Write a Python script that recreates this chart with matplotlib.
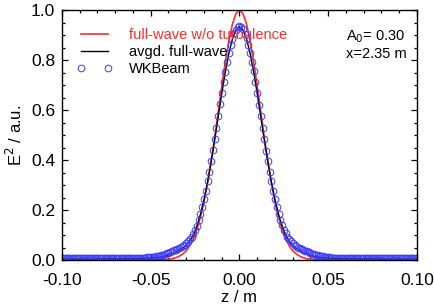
import numpy as np
import matplotlib
matplotlib.use("Agg")
import matplotlib.pyplot as plt
from matplotlib.ticker import MultipleLocator

plt.rcParams['font.family'] = ['Liberation Sans', 'DejaVu Sans']

# full-wave / averaged full-wave curves, sampled every 2 mm from -0.10 to 0.10 m
z_fw = np.linspace(-0.10, 0.10, 101)
e2_noturb = ([0.0] * 28
             + [0.001, 0.002, 0.003, 0.005, 0.009, 0.015, 0.024, 0.037, 0.057, 0.085, 0.122,
                0.171, 0.232, 0.307, 0.393, 0.489, 0.591, 0.694, 0.791, 0.877, 0.943, 0.985]
             + [1.0]
             + [0.985, 0.943, 0.877, 0.791, 0.694, 0.591, 0.489, 0.393, 0.307, 0.232, 0.171,
                0.122, 0.085, 0.057, 0.037, 0.024, 0.015, 0.009, 0.005, 0.003, 0.002, 0.001]
             + [0.0] * 28)
e2_avgd = ([0.004] * 11 + [0.005] * 10
           + [0.005, 0.006, 0.006, 0.007, 0.008, 0.009, 0.010, 0.012, 0.015, 0.019, 0.024,
              0.030, 0.038, 0.047, 0.059, 0.076, 0.100, 0.136, 0.183, 0.241, 0.311, 0.392,
              0.479, 0.572, 0.665, 0.751, 0.826, 0.884, 0.920]
           + [0.933]
           + [0.920, 0.884, 0.826, 0.751, 0.665, 0.572, 0.479, 0.392, 0.311, 0.241, 0.183,
              0.136, 0.100, 0.076, 0.059, 0.047, 0.038, 0.030, 0.024, 0.019, 0.015, 0.012,
              0.010, 0.009, 0.008, 0.007, 0.006, 0.006, 0.005]
           + [0.005] * 10 + [0.004] * 11)

# WKBeam points, every 1 mm
z_wk = np.linspace(-0.10, 0.10, 201)
e2_wk = ([0.007] * 31 + [0.008] * 10
         + [0.008, 0.008, 0.009, 0.009, 0.009, 0.010, 0.010, 0.011, 0.011, 0.012]
         + [0.013, 0.014, 0.015, 0.017, 0.018, 0.020, 0.022, 0.024, 0.027, 0.030]
         + [0.033, 0.036, 0.039, 0.042, 0.045, 0.047, 0.051, 0.056, 0.062, 0.068]
         + [0.076, 0.084, 0.094, 0.106, 0.120, 0.138, 0.160, 0.185, 0.213, 0.244]
         + [0.278, 0.315, 0.354, 0.396, 0.439, 0.484, 0.530, 0.576, 0.623, 0.668]
         + [0.712, 0.754, 0.793, 0.829, 0.860, 0.886, 0.907, 0.922, 0.932]
         + [0.935]
         + [0.931, 0.923, 0.906, 0.887, 0.859, 0.830, 0.792, 0.755, 0.711]
         + [0.669, 0.622, 0.577, 0.529, 0.485, 0.438, 0.397, 0.353, 0.316, 0.277]
         + [0.245, 0.212, 0.186, 0.159, 0.139, 0.119, 0.107, 0.093, 0.085, 0.075]
         + [0.069, 0.061, 0.057, 0.050, 0.047, 0.044, 0.042, 0.038, 0.036, 0.032]
         + [0.030, 0.026, 0.024, 0.021, 0.020, 0.018, 0.016, 0.015, 0.014, 0.013]
         + [0.012, 0.011, 0.010, 0.010, 0.010, 0.009, 0.009, 0.008, 0.008, 0.008]
         + [0.008] * 10 + [0.007] * 31)

labels = ['full-wave w/o turbulence', 'avgd. full-wave', 'WKBeam']
red = '#ff2a2a'
blue = '#3a3aff'

fig = plt.figure(figsize=(4.35, 3.06), dpi=100)
ax = fig.add_axes([0.1425, 0.1503, 0.8161, 0.8170])

ax.plot(z_fw, e2_noturb, color=red, lw=1.2, label=labels[0])
ax.plot(z_fw, e2_avgd, color='black', lw=1.0, label=labels[1])
ax.plot(z_wk, e2_wk, ls='none', marker='o', ms=4.8, mfc='none', mec=blue, mew=0.7,
        label=labels[2])

ax.set_xlim(-0.10, 0.10)
ax.set_ylim(0.0, 1.0)
ax.xaxis.set_major_locator(MultipleLocator(0.05))
ax.xaxis.set_minor_locator(MultipleLocator(0.01))
ax.yaxis.set_major_locator(MultipleLocator(0.2))
ax.yaxis.set_minor_locator(MultipleLocator(0.05))
ax.xaxis.set_major_formatter(plt.FormatStrFormatter('%.2f'))
ax.yaxis.set_major_formatter(plt.FormatStrFormatter('%.1f'))
ax.tick_params(which='both', direction='in', top=True, right=True, labelsize=12.5, pad=5)
ax.tick_params(axis='x', pad=9)
ax.tick_params(which='major', length=4.5, width=0.9)
ax.tick_params(which='minor', length=2.3, width=0.9)
for s in ax.spines.values():
    s.set_linewidth(1.0)

ax.set_xlabel('z / m', fontsize=12, labelpad=2)
ax.set_ylabel('E$^2$ / a.u.', fontsize=12, labelpad=4)

leg = ax.legend(loc='upper left', bbox_to_anchor=(0.042, 0.928), frameon=False,
                fontsize=10.5, numpoints=2, handlelength=2.4, handletextpad=1.2,
                labelspacing=0.2, borderpad=0, borderaxespad=0)
leg.get_texts()[0].set_color(red)

ax.text(0.80, 0.895, 'A$_0$= 0.30', transform=ax.transAxes, fontsize=10.5, va='center')
ax.text(0.80, 0.826, 'x=2.35 m', transform=ax.transAxes, fontsize=10.5, va='center')

fig.savefig('out.png', dpi=100)
